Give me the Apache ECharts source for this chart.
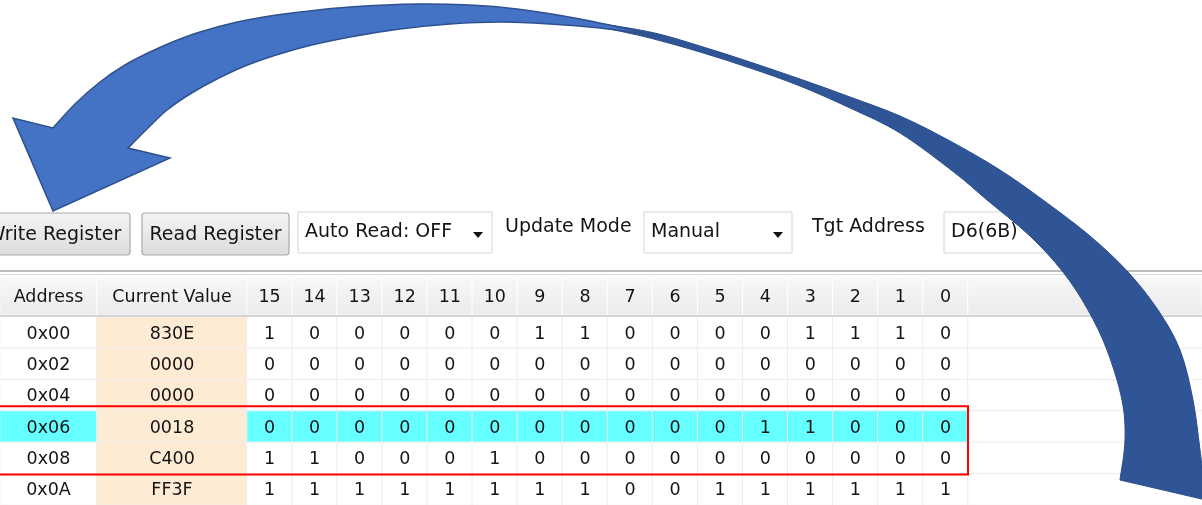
<!DOCTYPE html>
<html>
<head>
<meta charset="utf-8">
<title>Register view</title>
<script src="https://cdn.jsdelivr.net/npm/echarts@6/dist/echarts.min.js"></script>
<style>
  html, body { margin: 0; padding: 0; background: #fff; }
  #main { width: 1202px; height: 505px; }
</style>
</head>
<body>
<div id="main"></div>
<script>
// 表格内容
const addresses = ['0x00', '0x02', '0x04', '0x06', '0x08', '0x0A'];
const currentValues = ['830E', '0000', '0000', '0018', 'C400', 'FF3F'];
const bitLabels = ['15', '14', '13', '12', '11', '10', '9', '8', '7', '6', '5', '4', '3', '2', '1', '0'];
const bitValues = [
  [1, 0, 0, 0, 0, 0, 1, 1, 0, 0, 0, 0, 1, 1, 1, 0],
  [0, 0, 0, 0, 0, 0, 0, 0, 0, 0, 0, 0, 0, 0, 0, 0],
  [0, 0, 0, 0, 0, 0, 0, 0, 0, 0, 0, 0, 0, 0, 0, 0],
  [0, 0, 0, 0, 0, 0, 0, 0, 0, 0, 0, 1, 1, 0, 0, 0],
  [1, 1, 0, 0, 0, 1, 0, 0, 0, 0, 0, 0, 0, 0, 0, 0],
  [1, 1, 1, 1, 1, 1, 1, 1, 0, 0, 1, 1, 1, 1, 1, 1]
];
const highlightRow = '0x06';
const selectedRows = ['0x06', '0x08'];

// 工具栏
const buttons = ['Write Register', 'Read Register'];
const autoRead = 'Auto Read: OFF';
const updateModeLabel = 'Update Mode';
const updateMode = 'Manual';
const tgtAddressLabel = 'Tgt Address';
const tgtAddress = 'D6(6B)';

// 弯箭头轮廓 (画布单位): 后半段(深色)外沿/内沿, 前半段(浅色)外沿/内沿, 箭头两翼
const backOuter = [
  [583, 21], [650, 32], [700, 46], [750, 62], [800, 79], [850, 97], [900, 116], [950, 141],
  [1000, 170], [1043, 200], [1090, 236], [1128, 272], [1158, 310], [1180, 350], [1193, 400],
  [1200, 450], [1206, 500]
];
const backInner = [
  [1120, 480], [1125, 440], [1122, 400], [1107, 350], [1088, 310], [1063, 272], [1030, 236],
  [987, 200], [955, 173], [900, 133], [850, 108], [800, 86], [750, 68], [700, 52], [650, 38],
  [600, 27]
];
const frontOuter = [
  [53, 128], [75, 104], [100, 82], [125, 65], [150, 52], [175, 41], [200, 32], [233, 23],
  [270, 16], [300, 12], [350, 7], [417, 4], [470, 5], [517, 9], [580, 19], [655, 35]
];
const frontInner = [
  [655, 35], [600, 28], [550, 24], [500, 22], [450, 24], [400, 29], [350, 37], [300, 48],
  [250, 64], [217, 79], [190, 94], [167, 110], [148, 128], [128, 148]
];
const arrowHead = [[170, 158], [53, 211], [13, 118]];

const FONT = 'DejaVu Sans';
const TEXT = '#141414';
const CYAN = '#66FFFF';
const BEIGE = '#FEEBD4';
const headTop = 277, headH = 38, rowsTop = 317, rowH = 31.4;
const rowsH = rowH * addresses.length;

const groups = [
  { left: 0, width: 97, head: ['Address'] },
  { left: 97, width: 150, head: ['Current Value'] },
  { left: 247, width: 721, head: bitLabels },
  { left: 968, width: 234, head: [''] }
];

function cellText(g, r, c) {
  if (g === 0) return addresses[r];
  if (g === 1) return currentValues[r];
  if (g === 2) return String(bitValues[r][c]);
  return '';
}
function cellColor(g, r) {
  if (g === 1) return BEIGE;
  if (g !== 3 && addresses[r] === highlightRow) return CYAN;
  return '#ffffff';
}

const headFill = new echarts.graphic.LinearGradient(0, 0, 0, 1, [
  { offset: 0, color: '#F8F8F8' },
  { offset: 1, color: '#EBEBEB' }
]);
const cellLabel = {
  show: true,
  formatter: (p) => p.data.text,
  color: TEXT,
  fontFamily: FONT,
  fontSize: 17.5,
  offset: [0, 1.5]
};

const grid = [{ left: 0, top: 0, width: 1202, height: 505 }];
const xAxis = [{ type: 'value', gridIndex: 0, min: 0, max: 1202, show: false }];
const yAxis = [{ type: 'value', gridIndex: 0, min: 0, max: 505, inverse: true, show: false }];
const series = [];

groups.forEach((g, gi) => {
  // 表头
  const hi = grid.length;
  grid.push({ left: g.left, top: headTop, width: g.width, height: headH });
  xAxis.push({ type: 'category', gridIndex: hi, data: g.head.map((h, i) => 'h' + i), show: false });
  yAxis.push({ type: 'category', gridIndex: hi, data: ['head'], show: false });
  series.push({
    type: 'heatmap',
    xAxisIndex: hi,
    yAxisIndex: hi,
    data: g.head.map((h, c) => ({ value: [c, 0, 1], text: h })),
    itemStyle: { color: headFill, borderColor: '#FFFFFF', borderWidth: 1 },
    label: cellLabel,
    emphasis: { disabled: true }
  });
  // 数据行
  const ri = grid.length;
  grid.push({ left: g.left, top: rowsTop, width: g.width, height: rowsH });
  xAxis.push({ type: 'category', gridIndex: ri, data: g.head.map((h, i) => 'c' + i), show: false });
  yAxis.push({ type: 'category', gridIndex: ri, data: addresses, inverse: true, show: false });
  const cells = [];
  addresses.forEach((a, r) => {
    g.head.forEach((h, c) => {
      cells.push({ value: [c, r, 1], text: cellText(gi, r, c), itemStyle: { color: cellColor(gi, r) } });
    });
  });
  series.push({
    type: 'heatmap',
    xAxisIndex: ri,
    yAxisIndex: ri,
    data: cells,
    itemStyle: { borderColor: '#EDEDED', borderWidth: 1 },
    label: cellLabel,
    emphasis: { disabled: true }
  });
});

// 箭头: 曲线边用 Catmull-Rom 转贝塞尔, 拐角直连
function curvePath(pts, first) {
  let d = (first ? 'M' : 'L') + pts[0][0].toFixed(1) + ' ' + pts[0][1].toFixed(1);
  for (let i = 0; i < pts.length - 1; i++) {
    const p0 = pts[Math.max(i - 1, 0)], p1 = pts[i], p2 = pts[i + 1], p3 = pts[Math.min(i + 2, pts.length - 1)];
    const c1 = [p1[0] + (p2[0] - p0[0]) / 6, p1[1] + (p2[1] - p0[1]) / 6];
    const c2 = [p2[0] - (p3[0] - p1[0]) / 6, p2[1] - (p3[1] - p1[1]) / 6];
    d += ' C' + c1[0].toFixed(1) + ' ' + c1[1].toFixed(1) + ' ' + c2[0].toFixed(1) + ' ' + c2[1].toFixed(1) +
      ' ' + p2[0].toFixed(1) + ' ' + p2[1].toFixed(1);
  }
  return d;
}
function shapeRenderer(parts, fill, stroke, lw) {
  return function (params, api) {
    let d = '';
    parts.forEach((part, i) => {
      const pts = part.pts.map((p) => api.coord(p));
      if (part.smooth) {
        d += curvePath(pts, i === 0) + ' ';
      } else {
        pts.forEach((p, j) => { d += (i === 0 && j === 0 ? 'M' : 'L') + p[0].toFixed(1) + ' ' + p[1].toFixed(1) + ' '; });
      }
    });
    d += 'Z';
    return {
      type: 'path',
      shape: { pathData: d },
      style: { fill: fill, stroke: stroke, lineWidth: lw, lineJoin: 'miter' }
    };
  };
}
series.push({
  type: 'custom', xAxisIndex: 0, yAxisIndex: 0, z: 10, silent: true,
  data: [[0, 0]],
  renderItem: shapeRenderer([{ pts: backOuter, smooth: true }, { pts: backInner, smooth: true }],
    '#2F5597', '#2A4E8C', 1)
});
series.push({
  type: 'custom', xAxisIndex: 0, yAxisIndex: 0, z: 11, silent: true,
  data: [[0, 0]],
  renderItem: shapeRenderer([{ pts: frontOuter, smooth: true }, { pts: frontInner, smooth: true },
    { pts: arrowHead, smooth: false }], '#4472C4', '#2F528F', 1.5)
});

// 工具栏
const btnFill = new echarts.graphic.LinearGradient(0, 0, 0, 1, [
  { offset: 0, color: '#F5F5F5' },
  { offset: 1, color: '#DCDCDC' }
]);
function txt(t, x, y, align, size) {
  return {
    type: 'text', z: 3,
    style: {
      text: t, x: x, y: y, fill: TEXT, fontFamily: FONT, fontSize: size || 19,
      align: align, textAlign: align, verticalAlign: 'middle', textVerticalAlign: 'middle'
    }
  };
}
function button(t, x, w) {
  return [
    { type: 'rect', z: 1, shape: { x: x, y: 213, width: w, height: 42, r: 3 },
      style: { fill: btnFill, stroke: '#A9A9A9', lineWidth: 1.2 } },
    txt(t, x + w / 2, 235, 'center')
  ];
}
function dropdown(t, x, w, arrow) {
  const els = [
    { type: 'rect', z: 1, shape: { x: x, y: 212, width: w, height: 41 },
      style: { fill: '#FFFFFF', stroke: '#D6D6D6', lineWidth: 1 } },
    txt(t, x + 7, 232, 'left')
  ];
  if (arrow) {
    const cx = x + w - 14;
    els.push({ type: 'polygon', z: 2, shape: { points: [[cx - 5, 232], [cx + 5, 232], [cx, 238]] },
      style: { fill: '#111111' } });
  }
  return els;
}

const firstSel = addresses.indexOf(selectedRows[0]);
const graphicEls = [].concat(
  button(buttons[0], -22, 152),
  button(buttons[1], 142, 147),
  dropdown(autoRead, 298, 194, true),
  [txt(updateModeLabel, 505, 227, 'left')],
  dropdown(updateMode, 644, 148, true),
  [txt(tgtAddressLabel, 812, 227, 'left')],
  dropdown(tgtAddress, 944, 106, false),
  [
    { type: 'line', z: 1, shape: { x1: 0, y1: 271, x2: 1202, y2: 271 }, style: { stroke: '#BDBDBD', lineWidth: 2 } },
    { type: 'line', z: 1, shape: { x1: 0, y1: 274.5, x2: 1202, y2: 274.5 }, style: { stroke: '#DCDCDC', lineWidth: 1 } },
    { type: 'line', z: 4, shape: { x1: 0, y1: 316, x2: 1202, y2: 316 }, style: { stroke: '#D5D5D5', lineWidth: 2 } },
    { type: 'rect', z: 5,
      shape: { x: -2, y: rowsTop + firstSel * rowH - 5, width: 970, height: selectedRows.length * rowH + 5.5 },
      style: { fill: 'none', stroke: '#FF0000', lineWidth: 2 } }
  ]
);

const chart = echarts.init(document.getElementById('main'));
chart.setOption({
  backgroundColor: '#ffffff',
  animation: false,
  grid: grid,
  xAxis: xAxis,
  yAxis: yAxis,
  series: series,
  graphic: { elements: graphicEls }
});
</script>
</body>
</html>
